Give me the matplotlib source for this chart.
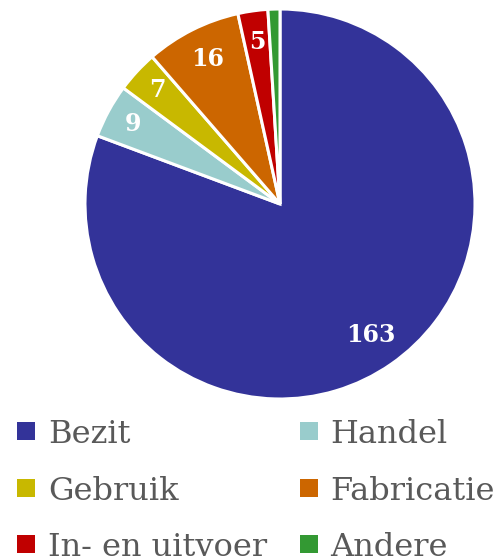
import matplotlib
matplotlib.use("Agg")
import matplotlib.pyplot as plt
from matplotlib.patches import Rectangle
import numpy as np

categories = ["Bezit", "Handel", "Gebruik", "Fabricatie", "In- en uitvoer", "Andere"]
values = [163, 9, 7, 16, 5, 2]
colors = ["#333399", "#99CCCC", "#C8B800", "#CC6600", "#C00000", "#339933"]
shown_labels = ["163", "9", "7", "16", "5", ""]

W, H = 503, 559
fig = plt.figure(figsize=(W / 100, H / 100), dpi=100)

# pie area (pixel geometry converted to figure fractions)
cx, cy, r = 280, 204, 195
ax = fig.add_axes([(cx - r) / W, (H - cy - r) / H, 2 * r / W, 2 * r / H])
wedges, _ = ax.pie(values, colors=colors, startangle=90, counterclock=False,
                   wedgeprops=dict(edgecolor="white", linewidth=2.2), radius=1)
ax.set_xlim(-1, 1)
ax.set_ylim(-1, 1)
ax.set_aspect("equal")
ax.axis("off")

serif = ["DejaVu Serif"]
label_dist = [0.82, 0.86, 0.86, 0.83, 0.84, 0.84]
for w, txt, d in zip(wedges, shown_labels, label_dist):
    if not txt:
        continue
    ang = np.deg2rad((w.theta1 + w.theta2) / 2)
    ax.text(d * np.cos(ang), d * np.sin(ang), txt, ha="center", va="center",
            color="white", fontsize=17, fontweight="bold", family=serif)

# legend laid out in two columns, row by row
marker_x = [17, 300]
text_x = [48, 330]
row_y = [431, 488, 544]
sq = 18
for i, (name, col) in enumerate(zip(categories, colors)):
    rr, cc = divmod(i, 2)
    y = row_y[rr]
    fig.add_artist(Rectangle((marker_x[cc] / W, (H - y - sq / 2) / H), sq / W, sq / H,
                             facecolor=col, edgecolor="none", transform=fig.transFigure))
    fig.text(text_x[cc] / W, (H - y) / H, name, ha="left", va="center_baseline",
             fontsize=23, color="#595959", family=serif)

fig.savefig("out.png", dpi=100)
